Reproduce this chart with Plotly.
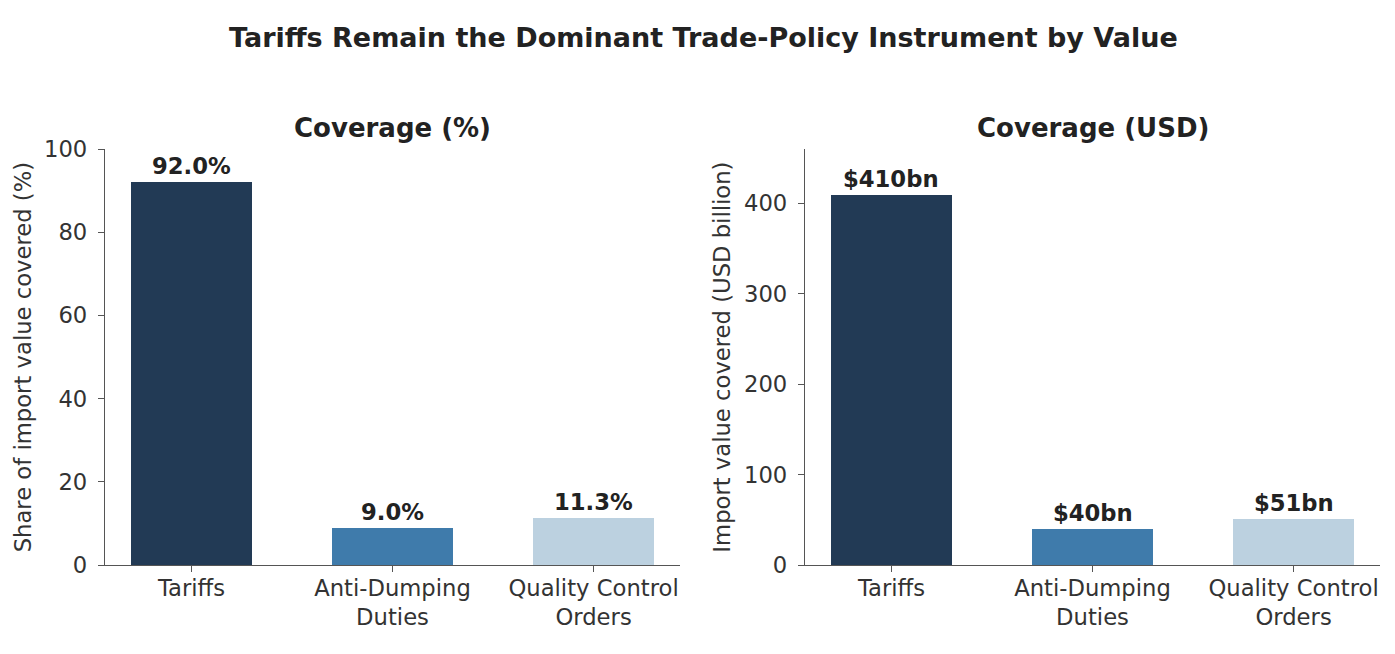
import plotly.graph_objects as go
from plotly.subplots import make_subplots

categories = ["Tariffs", "Anti-Dumping<br>Duties", "Quality Control<br>Orders"]
coverage_pct = [92.0, 9.0, 11.3]
coverage_usd = [409.6, 39.6, 50.7]
pct_labels = [f"{v:.1f}%" for v in coverage_pct]
usd_labels = [f"${v:.0f}bn" for v in coverage_usd]
colors = ["#223a55", "#3f7bab", "#bcd1e0"]

W, H = 1395, 654
FONT = "DejaVu Sans"
FS = 22.7

fig = make_subplots(rows=1, cols=2)
x_idx = [0, 1, 2]
fig.add_trace(go.Bar(x=x_idx, y=coverage_pct, width=0.6, marker=dict(color=colors, line=dict(width=0)),
                     showlegend=False, hoverinfo="skip"), row=1, col=1)
fig.add_trace(go.Bar(x=x_idx, y=coverage_usd, width=0.6, marker=dict(color=colors, line=dict(width=0)),
                     showlegend=False, hoverinfo="skip"), row=1, col=2)

axis_common = dict(showline=True, linecolor="#555555", linewidth=1.3, ticks="outside",
                   ticklen=6, tickwidth=1.3, tickcolor="#555555", showgrid=False, zeroline=False,
                   tickfont=dict(family=FONT, size=FS, color="#333333"))

px_l = lambda p: p / W
py = lambda p: 1 - p / H

fig.update_xaxes(**axis_common, tickmode="array", tickvals=x_idx, ticktext=categories,
                 range=[-0.43, 2.43], ticklabelstandoff=-4)
fig.update_xaxes(domain=[px_l(105), px_l(680)], row=1, col=1)
fig.update_xaxes(domain=[px_l(805), px_l(1380)], row=1, col=2)
fig.update_yaxes(**axis_common, ticklabelstandoff=6)
fig.update_yaxes(domain=[py(575), py(141.7)], range=[0, 100], dtick=20,
                 title=dict(text="Share of import value covered (%)", standoff=6,
                            font=dict(family=FONT, size=FS, color="#333333")), row=1, col=1)
fig.update_yaxes(domain=[py(575), py(141.7)], range=[0, 460], dtick=100,
                 title=dict(text="Import value covered (USD billion)", standoff=7,
                            font=dict(family=FONT, size=FS, color="#333333")), row=1, col=2)

annotations = []
for i, (v, t) in enumerate(zip(coverage_pct, pct_labels)):
    annotations.append(dict(x=i, y=v, xref="x", yref="y", text=f"<b>{t}</b>", showarrow=False,
                            yanchor="bottom", yshift=1, font=dict(family=FONT, size=FS, color="#222222")))
for i, (v, t) in enumerate(zip(coverage_usd, usd_labels)):
    annotations.append(dict(x=i, y=v, xref="x2", yref="y2", text=f"<b>{t}</b>", showarrow=False,
                            yanchor="bottom", yshift=1, font=dict(family=FONT, size=FS, color="#222222")))
annotations.append(dict(x=px_l(392.5), y=py(120), xref="paper", yref="paper", text="<b>Coverage (%)</b>",
                        showarrow=False, xanchor="center", yanchor="middle",
                        font=dict(family=FONT, size=26, color="#222222")))
annotations.append(dict(x=px_l(1092.5), y=py(120), xref="paper", yref="paper", text="<b>Coverage (USD)</b>",
                        showarrow=False, xanchor="center", yanchor="middle",
                        font=dict(family=FONT, size=26, color="#222222")))
annotations.append(dict(x=px_l(703), y=py(25), xref="paper", yref="paper",
                        text="<b>Tariffs Remain the Dominant Trade-Policy Instrument by Value</b>",
                        showarrow=False, xanchor="center", yanchor="middle",
                        font=dict(family=FONT, size=27, color="#222222")))

fig.update_layout(
    width=W, height=H, margin=dict(l=0, r=0, t=0, b=0),
    paper_bgcolor="white", plot_bgcolor="white",
    font=dict(family=FONT, color="#333333"),
    annotations=annotations, bargap=0,
)

fig.write_html("out.html", config={"displayModeBar": False},
               post_script="document.body.style.margin='0';")
